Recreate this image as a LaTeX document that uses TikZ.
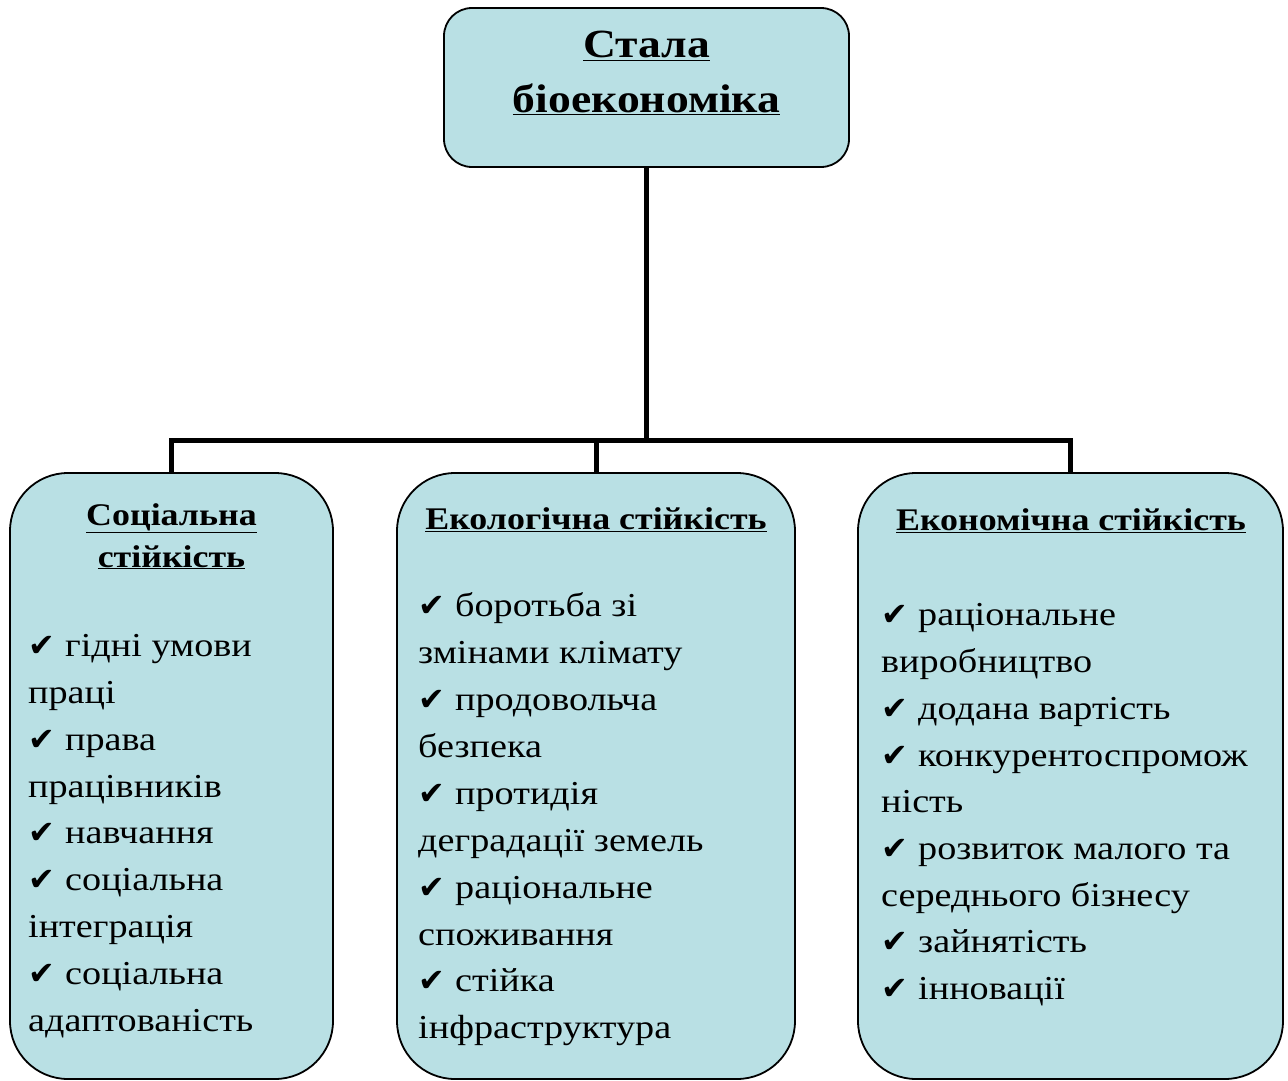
\documentclass[tikz,border=0pt]{standalone}
\usepackage{fontspec}
\setmainfont{Liberation Serif}[FakeStretch=1.14]
\newfontfamily\checkfont{DejaVu Sans}
\definecolor{boxfill}{RGB}{185,224,228}

\tikzset{
  card/.style={draw=black, line width=1.8pt, fill=boxfill, inner sep=0pt},
  conn/.style={draw=black, line width=5pt, line join=miter},
  heading/.style={inner sep=0pt, anchor=base, font=\bfseries\fontsize{31.5}{36}\selectfont, align=center},
  roothead/.style={heading, font=\bfseries\fontsize{40}{46}\selectfont},
  entry/.style={inner sep=0pt, anchor=base west, font=\fontsize{33.5}{38}\selectfont},
}
\newcommand{\tick}{\makebox[37pt][l]{\checkfont\fontsize{32}{36}\selectfont ✔}}

\begin{document}
\begin{tikzpicture}[x=1pt,y=-1pt]
\useasboundingbox (0,0) rectangle (1288,1081);

% boxes
\node[card, rounded corners=28pt, minimum width=405pt, minimum height=159pt] (root) at (646.5,87.5) {};
\node[card, rounded corners=58pt, minimum width=323pt, minimum height=606pt] (soc) at (171.5,776) {};
\node[card, rounded corners=58pt, minimum width=398pt, minimum height=606pt] (eco) at (596,776) {};
\node[card, rounded corners=58pt, minimum width=425pt, minimum height=606pt] (econ) at (1070.5,776) {};

% connectors
\coordinate (bus) at (646.5,440);
\draw[conn] (root.south) -- (bus);
\draw[conn] (soc.north) -- (soc.north |- bus) -- (econ.north |- bus) -- (econ.north);
\draw[conn] (eco.north) -- (eco.north |- bus);

% root title
\node[roothead] (t1) at (646.5,58) {\underline{Стала}};
\node[roothead] (t2) at (646.5,112) {\underline{біоекономіка}};

% social sustainability
\node[heading] (s0) at (171.5,525) {\underline{Соціальна}};
\node[heading] (s00) at (171.5,567) {\underline{стійкість}};
\node[entry] (s1) at (28,656) {\tick гідні умови};
\node[entry] (s2) at (28,703) {праці};
\node[entry] (s3) at (28,750) {\tick права};
\node[entry] (s4) at (28,797) {працівників};
\node[entry] (s5) at (28,843) {\tick навчання};
\node[entry] (s6) at (28,890) {\tick соціальна};
\node[entry] (s7) at (28,937) {інтеграція};
\node[entry] (s8) at (28,984) {\tick соціальна};
\node[entry] (s9) at (28,1031) {адаптованість};

% ecological sustainability
\node[heading] (e0) at (596,529) {\underline{Екологічна стійкість}};
\node[entry] (e1) at (418,616) {\tick боротьба зі};
\node[entry] (e2) at (418,663) {змінами клімату};
\node[entry] (e3) at (418,710) {\tick продовольча};
\node[entry] (e4) at (418,757) {безпека};
\node[entry] (e5) at (418,804) {\tick протидія};
\node[entry] (e6) at (418,851) {деградації земель};
\node[entry] (e7) at (418,898) {\tick раціональне};
\node[entry] (e8) at (418,945) {споживання};
\node[entry] (e9) at (418,991) {\tick стійка};
\node[entry] (e10) at (418,1038) {інфраструктура};

% economic sustainability
\node[heading] (c0) at (1071,530) {\underline{Економічна стійкість}};
\node[entry] (c1) at (881,625) {\tick раціональне};
\node[entry] (c2) at (881,672) {виробництво};
\node[entry] (c3) at (881,719) {\tick додана вартість};
\node[entry] (c4) at (881,766) {\tick конкурентоспромож};
\node[entry] (c5) at (881,812) {ність};
\node[entry] (c6) at (881,859) {\tick розвиток малого та};
\node[entry] (c7) at (881,906) {середнього бізнесу};
\node[entry] (c8) at (881,952) {\tick зайнятість};
\node[entry] (c9) at (881,999) {\tick інновації};
\end{tikzpicture}
\end{document}
